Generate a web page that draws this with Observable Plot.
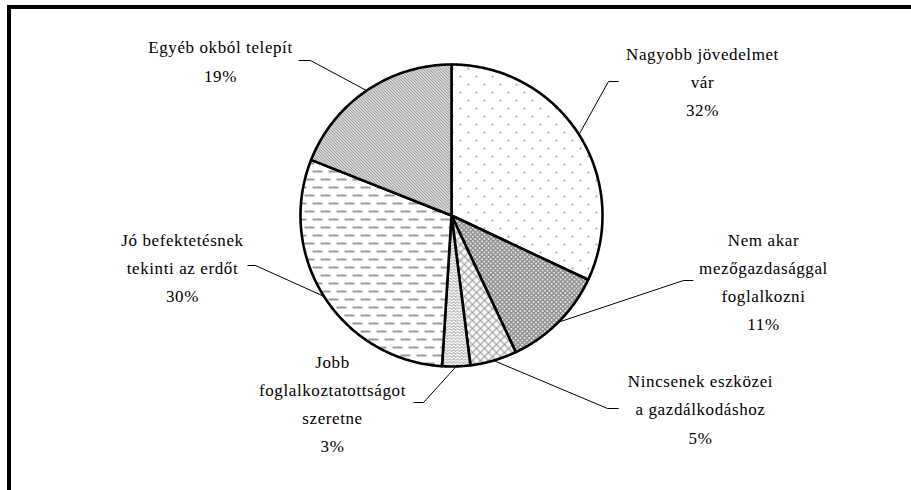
<!DOCTYPE html>
<html>
<head>
<meta charset="utf-8">
<script src="https://cdn.jsdelivr.net/npm/d3@7"></script>
<script src="https://cdn.jsdelivr.net/npm/@observablehq/plot@0.6"></script>
<style>
  html, body { margin: 0; padding: 0; background: #fff; overflow: hidden; }
  #chart svg { display: block; }
  #chart svg text { font-family: "Liberation Serif", "Times New Roman", serif !important; letter-spacing: 0.6px; }
</style>
</head>
<body>
<div id="chart"></div>
<script>
// ---- data ----
const categories = [
  "Nagyobb jövedelmet\nvár",
  "Nem akar\nmezőgazdasággal\nfoglalkozni",
  "Nincsenek eszközei\na gazdálkodáshoz",
  "Jobb\nfoglalkoztatottságot\nszeretne",
  "Jó befektetésnek\ntekinti az erdőt",
  "Egyéb okból telepít"
];
const values = [32, 11, 5, 3, 30, 19];
const percentLabels = ["32%", "11%", "5%", "3%", "30%", "19%"];

// ---- layout (pixels) ----
const W = 911, H = 490;
const CX = 451, CY = 215, R = 151;
const labelPos = [[702, 78.5], [763, 278.5], [700, 406], [332, 400.5], [182, 264.5], [220, 58]];
const leaderPos = [[618, 608, 81], [693, 683, 280], [618, 607, 408], [413, 423, 402], [247, 255, 265], [298, 310, 60]];
const patterns = ["p0", "p1", "p2", "p3", "p4", "p5"];

const arcs = d3.pie().sort(null).value(d => d)(values);
const pt = (a, r) => ({x: CX + r * Math.sin(a), y: CY - r * Math.cos(a)});

const slices = arcs.map((a, i) => {
  const pts = [{x: CX, y: CY}];
  const n = Math.max(8, Math.ceil((a.endAngle - a.startAngle) / 0.01));
  for (let k = 0; k <= n; k++) pts.push(pt(a.startAngle + (a.endAngle - a.startAngle) * k / n, R));
  pts.push({x: CX, y: CY});
  return pts;
});

const leaders = arcs.flatMap((a, i) => {
  const mid = (a.startAngle + a.endAngle) / 2;
  const e = pt(mid, R);
  const [x0, x1, y] = leaderPos[i];
  return [{i, x: x0, y}, {i, x: x1, y}, {i, x: e.x, y: e.y}];
});

const texts = categories.map((c, i) => ({t: c + "\n" + percentLabels[i], x: labelPos[i][0], y: labelPos[i][1]}));

const chart = Plot.plot({
  width: W, height: H,
  margin: 0,
  x: {type: "linear", domain: [0, W], range: [0, W], axis: null},
  y: {type: "linear", domain: [0, H], range: [0, H], axis: null},
  style: {background: "#fff"},
  marks: [
    ...slices.map((s, i) => Plot.line(s, {x: "x", y: "y", fill: `url(#${patterns[i]})`, stroke: "#000", strokeWidth: 2.6, strokeLinejoin: "round", curve: "linear"})),
    Plot.line(leaders, {x: "x", y: "y", z: "i", stroke: "#000", strokeWidth: 1, strokeLinecap: "butt"}),
    Plot.text(texts, {x: "x", y: "y", text: "t", fontSize: 17, fontFamily: "Liberation Serif", lineHeight: 1.65, textAnchor: "middle", lineAnchor: "middle", fill: "#000"})
  ]
});
document.getElementById("chart").appendChild(chart);

const svg = d3.select(chart);
// frame (decoration)
svg.append("rect").attr("x", 7).attr("y", 5).attr("width", W - 7).attr("height", 4).attr("fill", "#000");
svg.append("rect").attr("x", 7).attr("y", 5).attr("width", 4).attr("height", H - 5).attr("fill", "#000");

// pattern definitions
const defs = svg.insert("defs", ":first-child");
function pat(id, w, h) {
  const p = defs.append("pattern").attr("id", id).attr("patternUnits", "userSpaceOnUse").attr("width", w).attr("height", h);
  p.append("rect").attr("width", w).attr("height", h).attr("fill", "#fff");
  return p;
}
let p = pat("p0", 16, 16);
p.append("circle").attr("cx", 4).attr("cy", 4).attr("r", 0.95).attr("fill", "#888");
p.append("circle").attr("cx", 12).attr("cy", 12).attr("r", 0.95).attr("fill", "#888");
p = pat("p1", 4.5, 4.5);
p.append("path").attr("d", "M0,0L4.5,4.5M4.5,0L0,4.5").attr("stroke", "#8c8c8c").attr("stroke-width", 1.5);
p = pat("p2", 8, 8);
p.append("path").attr("d", "M0,0L8,8M8,0L0,8").attr("stroke", "#999").attr("stroke-width", 1.2);
p = pat("p3", 4, 3);
p.append("path").attr("d", "M0,2L1,1L3,3L4,2").attr("fill", "none").attr("stroke", "#777").attr("stroke-width", 0.8);
p.append("path").attr("d", "M0,-1L1,-2L3,0L4,-1").attr("fill", "none").attr("stroke", "#777").attr("stroke-width", 0.8);
p = pat("p4", 16, 16);
p.append("rect").attr("x", 0).attr("y", 2).attr("width", 10).attr("height", 2).attr("fill", "#999");
p.append("rect").attr("x", 8).attr("y", 10).attr("width", 8).attr("height", 2).attr("fill", "#999");
p.append("rect").attr("x", 0).attr("y", 10).attr("width", 2).attr("height", 2).attr("fill", "#999");
p = pat("p5", 3, 3);
p.append("path").attr("d", "M0,0L3,3M-1,2L1,4M2,-1L4,1").attr("stroke", "#4a4a4a").attr("stroke-width", 1);
</script>
</body>
</html>
